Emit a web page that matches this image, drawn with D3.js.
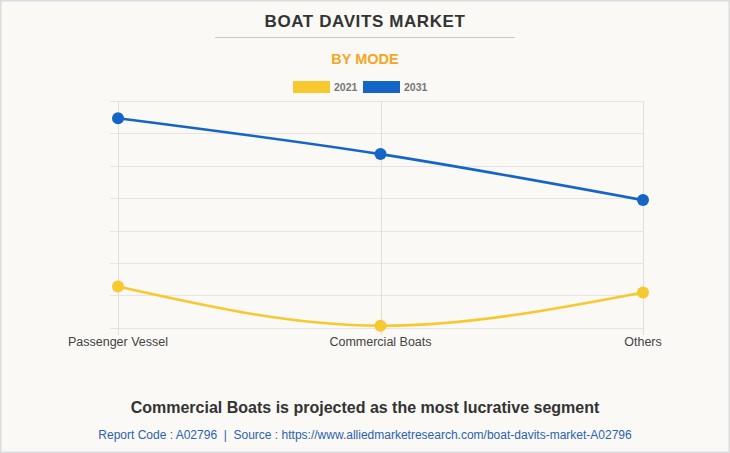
<!DOCTYPE html>
<html>
<head>
<meta charset="utf-8">
<script src="https://cdn.jsdelivr.net/npm/d3@7"></script>
<style>
  html, body { margin: 0; padding: 0; background: #faf9f5; }
  svg { display: block; font-family: "Liberation Sans", Arial, sans-serif; }
</style>
</head>
<body>
<script>
// data (no axis labels shown, units are grid steps)
let categories = ["Passenger Vessel", "Commercial Boats", "Others"];
let values2021 = [1.27, 0.06, 1.09];
let values2031 = [6.47, 5.36, 3.94];
let seriesNames = ["2021", "2031"];
let seriesColors = ["#f7c92e", "#1565c7"];
let gridTicks = [0, 1, 2, 3, 4, 5, 6, 7];

let width = 730, height = 453;
let svg = d3.select("body").append("svg")
	.attr("width", width)
	.attr("height", height);

// frame
svg.append("rect")
	.attr("x", 0.75).attr("y", 0.75)
	.attr("width", width - 1.5).attr("height", height - 1.5)
	.attr("fill", "#faf9f5")
	.attr("stroke", "#dcdcdc")
	.attr("stroke-width", 1.5);

// title
svg.append("text")
	.attr("x", 365).attr("y", 26.5)
	.attr("text-anchor", "middle")
	.attr("font-size", 17)
	.attr("font-weight", "bold")
	.attr("fill", "#333")
	.attr("letter-spacing", 0.6)
	.text("BOAT DAVITS MARKET");

svg.append("line")
	.attr("x1", 215).attr("x2", 515)
	.attr("y1", 37.5).attr("y2", 37.5)
	.attr("stroke", "#c8c8c8");

svg.append("text")
	.attr("x", 365).attr("y", 64)
	.attr("text-anchor", "middle")
	.attr("font-size", 14.5)
	.attr("font-weight", "bold")
	.attr("fill", "#f5a623")
	.text("BY MODE");

// legend
let legendX = [293, 363];
seriesNames.forEach((name, i) => {
	svg.append("rect")
		.attr("x", legendX[i]).attr("y", 81)
		.attr("width", 37).attr("height", 12)
		.attr("fill", seriesColors[i]);
	svg.append("text")
		.attr("x", legendX[i] + 41).attr("y", 91)
		.attr("font-size", 10.5)
		.attr("font-weight", "bold")
		.attr("fill", "#777")
		.text(name);
});

// scales
let x = d3.scalePoint()
	.domain(categories)
	.range([118, 643]);
let y = d3.scaleLinear()
	.domain([0, 7])
	.range([327.7, 101]);

// horizontal grid
svg.append("g").selectAll("line")
	.data(gridTicks)
	.join("line")
	.attr("x1", 110).attr("x2", 643)
	.attr("y1", d => Math.round(y(d)) + 0.5)
	.attr("y2", d => Math.round(y(d)) + 0.5)
	.attr("stroke", "#e6e4df");

// vertical grid
svg.append("g").selectAll("line")
	.data(categories)
	.join("line")
	.attr("x1", d => Math.round(x(d)) + 0.5)
	.attr("x2", d => Math.round(x(d)) + 0.5)
	.attr("y1", 101).attr("y2", 335)
	.attr("stroke", "#e0ded9");

// x labels
svg.append("g").selectAll("text")
	.data(categories)
	.join("text")
	.attr("x", d => x(d))
	.attr("y", 346)
	.attr("text-anchor", "middle")
	.attr("font-size", 12.5)
	.attr("fill", "#444")
	.text(d => d);

let line = d3.line()
	.x((d, i) => x(categories[i]))
	.y(d => y(d))
	.curve(d3.curveMonotoneX);

[values2021, values2031].forEach((vals, s) => {
	svg.append("path")
		.datum(vals)
		.attr("d", line)
		.attr("fill", "none")
		.attr("stroke", seriesColors[s])
		.attr("stroke-width", 2.6);

	svg.append("g").selectAll("circle")
		.data(vals)
		.join("circle")
		.attr("cx", (d, i) => x(categories[i]))
		.attr("cy", d => y(d))
		.attr("r", 6)
		.attr("fill", seriesColors[s]);
});

// footer
svg.append("text")
	.attr("x", 365).attr("y", 413)
	.attr("text-anchor", "middle")
	.attr("font-size", 16)
	.attr("font-weight", "bold")
	.attr("fill", "#333")
	.text("Commercial Boats is projected as the most lucrative segment");

svg.append("text")
	.attr("x", 365).attr("y", 439)
	.attr("text-anchor", "middle")
	.attr("font-size", 12)
	.attr("fill", "#2a62b0")
	.text("Report Code : A02796  |  Source : https://www.alliedmarketresearch.com/boat-davits-market-A02796")
	.attr("xml:space", "preserve")
	.style("white-space", "pre");
</script>
</body>
</html>
